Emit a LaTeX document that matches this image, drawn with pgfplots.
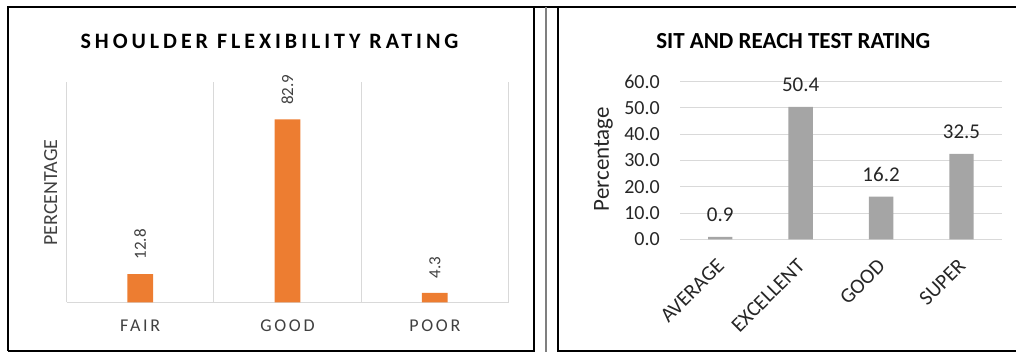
\documentclass[border=0pt]{standalone}
\usepackage{fontspec}
\setmainfont{Carlito}
\usepackage{pgfplots}
\pgfplotsset{compat=1.18}
\pgfkeys{/pgf/number format/assume math mode=true}
\definecolor{barorange}{HTML}{ED7D31}
\definecolor{bargray}{HTML}{A5A5A5}
\definecolor{gridgray}{HTML}{D9D9D9}
\definecolor{txtdark}{HTML}{404040}
\definecolor{txtright}{HTML}{262626}
\definecolor{sepgray}{HTML}{7F7F7F}
\newcommand{\fs}[1]{\fontsize{#1}{#1}\selectfont}

\begin{document}
\begin{tikzpicture}
\path[use as bounding box] (0pt,0pt) rectangle (1016pt,352pt);

% panel frames
\draw[line width=2pt] (7.6pt,0.8pt) -- (7.6pt,344.5pt) -- (1016pt,344.5pt);
\draw[line width=2pt] (534pt,344.5pt) -- (534pt,0.8pt) -- (7.6pt,0.8pt);
\draw[line width=2pt] (558.3pt,344.5pt) -- (558.3pt,0.8pt) -- (1016pt,0.8pt);
\draw[line width=1.3pt, sepgray] (546pt,344.5pt) -- (546pt,0pt);

% ---------- shoulder flexibility ----------
\node[anchor=base, font=\fs{22}\bfseries\addfontfeatures{LetterSpace=18}, text=black]
  at (269.5pt,303.7pt) {SHOULDER FLEXIBILITY RATING};
\node[rotate=90, font=\fs{20}, text=txtdark] at (50.8pt,159.5pt) {PERCENTAGE};

\begin{axis}[
  at={(66.5pt,49.7pt)}, anchor=south west,
  scale only axis, width=442pt, height=220.6pt,
  xmin=-0.5, xmax=2.5, ymin=0, ymax=100,
  axis x line*=bottom, axis y line=none,
  x axis line style={gridgray, line width=1pt},
  xtick={0,1,2}, xticklabels={FAIR,GOOD,POOR},
  minor xtick={-0.5,0.5,1.5,2.5}, xminorgrids,
  minor grid style={gridgray, line width=1pt},
  major tick length=0pt, minor tick length=0pt,
  ytick=\empty,
  xticklabel style={font=\fs{18}\addfontfeatures{LetterSpace=15}, text=txtdark,
    anchor=base, inner sep=0pt, yshift=-29.7pt},
  ybar, bar width=25.8pt,
  clip=false,
  nodes near coords,
  every node near coord/.append style={font=\fs{17}, text=txtdark, inner sep=0pt,
    yshift=14.5pt, rotate=90, anchor=west},
]
\addplot[fill=barorange, draw=none] coordinates {(0,12.8) (1,82.9) (2,4.3)};
\end{axis}

% ---------- sit and reach ----------
\node[anchor=base, font=\fs{23}\bfseries, text=black]
  at (793.2pt,303.7pt) {SIT AND REACH TEST RATING};
\node[rotate=90, font=\fs{23}, text=txtright] at (603.4pt,192.8pt) {Percentage};

\begin{axis}[
  at={(680pt,112.7pt)}, anchor=south west,
  scale only axis, width=321.7pt, height=157.6pt,
  xmin=-0.5, xmax=3.5, ymin=0, ymax=60,
  axis line style={draw=none},
  ymajorgrids, grid style={gridgray, line width=1pt},
  ytick={0,10,20,30,40,50,60},
  major tick length=0pt,
  yticklabel style={font=\fs{20}, text=txtright, anchor=east, inner sep=0pt, xshift=-20pt,
    /pgf/number format/.cd, fixed, fixed zerofill, precision=1},
  xtick={0,1,2,3}, xticklabels={AVERAGE,EXCELLENT,GOOD,SUPER},
  xticklabel style={font=\fs{21}, text=txtright, inner sep=0pt,
    yshift=-23pt, xshift=0.5pt, rotate=45, anchor=east},
  ybar, bar width=24.4pt,
  clip=false,
  nodes near coords,
  every node near coord/.append style={font=\fs{21}, text=txtright, inner sep=0pt,
    anchor=base, yshift=15pt},
]
\addplot[fill=bargray, draw=none] coordinates {(0,0.9) (1,50.4) (2,16.2) (3,32.5)};
\end{axis}
\end{tikzpicture}
\end{document}
